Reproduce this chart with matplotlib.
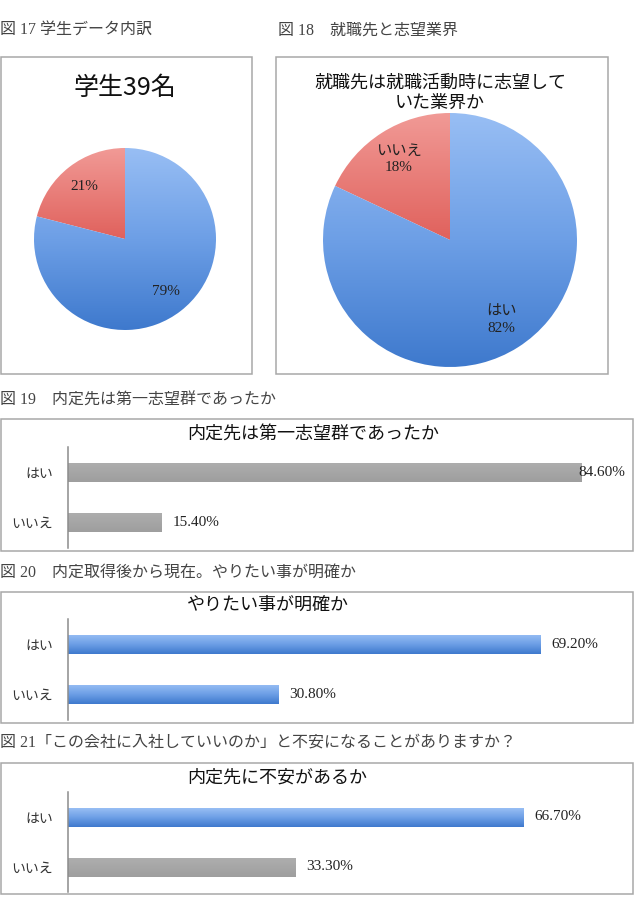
import numpy as np
import matplotlib
matplotlib.use('Agg')
import matplotlib.pyplot as plt
from matplotlib.patches import Rectangle
from matplotlib.colors import LinearSegmentedColormap

plt.rcParams['font.family'] = ['Noto Sans CJK JP', 'DejaVu Sans']

W, H = 638, 911

# ---------------- data ----------------
caption17 = '図 17 学生データ内訳'
caption18 = '図 18　就職先と志望業界'
caption19 = '図 19　内定先は第一志望群であったか'
caption20 = '図 20　内定取得後から現在。やりたい事が明確か'
caption21 = '図 21「この会社に入社していいのか」と不安になることがありますか？'

pie1_title = '学生39名'
pie1_labels = ['', '']
pie1_values = [21, 79]

pie2_title = '就職先は就職活動時に志望して\nいた業界か'
pie2_labels = ['いいえ', 'はい']
pie2_values = [18, 82]

bar_categories = ['いいえ', 'はい']
bar19_title = '内定先は第一志望群であったか'
bar19_values = [15.4, 84.6]
bar20_title = 'やりたい事が明確か'
bar20_values = [30.8, 69.2]
bar21_title = '内定先に不安があるか'
bar21_values = [33.3, 66.7]

# --------------------------------------
SERIF = ['Liberation Serif', 'Noto Sans CJK JP']
SANS = ['Noto Sans CJK JP', 'DejaVu Sans']

blue_cmap = LinearSegmentedColormap.from_list('b', ['#3e79cd', '#6d9fe6', '#98bef4'])
red_cmap = LinearSegmentedColormap.from_list('r', ['#cf4742', '#e0615c', '#f19a96'])
gray_cmap = LinearSegmentedColormap.from_list('g', ['#9e9e9e', '#a6a6a6', '#aeaeae'])

fig = plt.figure(figsize=(W / 100, H / 100), dpi=100)
fig.patch.set_facecolor('white')


def rect(x0, y0, x1, y1):
    return [x0 / W, 1 - y1 / H, (x1 - x0) / W, (y1 - y0) / H]


def box(x0, y0, x1, y1):
    fig.add_artist(Rectangle((x0 / W, 1 - y1 / H), (x1 - x0) / W, (y1 - y0) / H,
                             transform=fig.transFigure, fill=False,
                             ec='#a8a8a8', lw=1.1))


def ftext(x, y, s, **kw):
    fig.text(x / W, 1 - y / H, s, **kw)


# captions
cap_kw = dict(fontsize=11.5, color='#444444', family=SERIF, va='center', ha='left')
ftext(0, 31, caption17, **cap_kw)
ftext(278, 31, caption18, **cap_kw)
ftext(0, 401, caption19, **cap_kw)
ftext(0, 573, caption20, **cap_kw)
ftext(0, 743, caption21, **cap_kw)

# boxes
box(1, 57, 252, 374)
box(276, 57, 608, 374)
box(1, 419, 633, 551)
box(1, 592, 633, 723)
box(1, 763, 633, 894)


def draw_pie(cx, cy, r, values, labels, cmaps, pctdist):
    ax = fig.add_axes(rect(cx - r, cy - r, cx + r, cy + r))
    wedges, _ = ax.pie(values, startangle=90, counterclock=True, radius=1,
                       wedgeprops=dict(linewidth=0))
    grad = np.linspace(0, 1, 256).reshape(-1, 1)
    total = sum(values)
    for w, cmap, lab, v in zip(wedges, cmaps, labels, values):
        w.set_facecolor('none')
        im = ax.imshow(grad, extent=[-1, 1, -1, 1], origin='lower', cmap=cmap,
                       aspect='auto', zorder=0.5, interpolation='bilinear')
        im.set_clip_path(w)
        mid = np.deg2rad((w.theta1 + w.theta2) / 2)
        pct = f'{round(100 * v / total)}%'
        txt = pct if lab == '' else f'{lab}\n{pct}'
        ax.text(pctdist * np.cos(mid), pctdist * np.sin(mid), txt,
                ha='center', va='center', fontsize=11, color='#222222',
                family=SERIF, linespacing=1.3)
    ax.set_xlim(-1, 1)
    ax.set_ylim(-1, 1)
    ax.axis('off')
    return ax


draw_pie(125, 239, 91, pie1_values, pie1_labels, [red_cmap, blue_cmap], 0.73)
ftext(125, 88, pie1_title, ha='center', va='center', fontsize=18, color='#111111',
      family=SANS)

draw_pie(450, 240, 127, pie2_values, pie2_labels, [red_cmap, blue_cmap], 0.75)
ftext(440, 93, pie2_title, ha='center', va='center', fontsize=13, color='#111111',
      family=SANS, linespacing=1.15)


def draw_bar(y0, y1, values, xmax, title, title_x, title_y, cmaps):
    ax = fig.add_axes(rect(68, y0, 68 + 546, y1))
    ypos = np.arange(len(bar_categories))
    bars = ax.barh(ypos, values, height=0.38, color='none', linewidth=0)
    grad = np.linspace(0, 1, 128).reshape(-1, 1)
    for b, cmap in zip(bars, cmaps):
        x, y = b.get_x(), b.get_y()
        im = ax.imshow(grad, extent=[x, x + b.get_width(), y, y + b.get_height()],
                       origin='lower', cmap=cmap, aspect='auto', zorder=2,
                       interpolation='bilinear')
        im.set_clip_path(b)
    ax.set_xlim(0, xmax)
    ax.set_ylim(-0.5, len(bar_categories) - 0.5)
    ax.set_yticks(ypos)
    ax.set_yticklabels(bar_categories, family=SANS, fontsize=10, color='#333333')
    ax.tick_params(axis='y', length=0, pad=11)
    ax.set_xticks([])
    for s in ['top', 'right', 'bottom']:
        ax.spines[s].set_visible(False)
    ax.spines['left'].set_color('#8c8c8c')
    ax.spines['left'].set_linewidth(1.1)
    for yy, v in zip(ypos, values):
        off = -2 if v / xmax > 0.9 else 8
        ax.annotate(f'{v:.2f}%', xy=(v, yy), xytext=(off, 0),
                    textcoords='offset points', ha='left', va='center',
                    fontsize=11, color='#222222', family=SERIF,
                    annotation_clip=False, zorder=3)
    ftext(title_x, title_y, title, ha='center', va='center', fontsize=13,
          color='#111111', family=SANS)
    return ax


draw_bar(447, 548, bar19_values, 90, bar19_title, 313, 435, [gray_cmap, gray_cmap])
draw_bar(619, 720, bar20_values, 80, bar20_title, 268, 605, [blue_cmap, blue_cmap])
draw_bar(792, 892, bar21_values, 80, bar21_title, 277, 778, [gray_cmap, blue_cmap])

fig.savefig('out.png', dpi=100, facecolor='white')
